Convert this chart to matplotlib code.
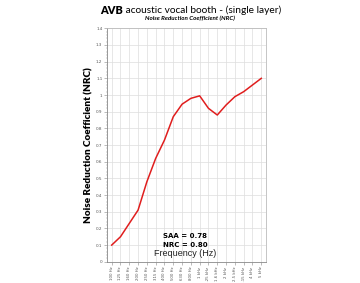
import matplotlib
matplotlib.use("Agg")
import matplotlib.pyplot as plt
import numpy as np
from matplotlib.ticker import MultipleLocator

bands = ["100 Hz", "125 Hz", "160 Hz", "200 Hz", "250 Hz", "315 Hz",
         "400 Hz", "500 Hz", "630 Hz", "800 Hz", "1 kHz", "1.25 kHz",
         "1.6 kHz", "2 kHz", "2.5 kHz", "3.15 kHz", "4 kHz", "5 kHz"]
nrc = [0.10, 0.15, 0.23, 0.31, 0.48, 0.62, 0.73, 0.87, 0.945, 0.98,
       0.995, 0.92, 0.88, 0.94, 0.99, 1.02, 1.06, 1.10]
yticks = [0, 0.1, 0.2, 0.3, 0.4, 0.5, 0.6, 0.7, 0.8, 0.9, 1.0, 1.1, 1.2, 1.3, 1.4]

fig = plt.figure(figsize=(3.6, 2.83), dpi=100)
ax = fig.add_axes([0.298, 0.075, 0.44, 0.825])

x = np.arange(len(bands))
ax.plot(x, nrc, color="#e01e1e", lw=1.1, solid_joinstyle="round")

ax.set_xlim(-0.5, 17.5)
ax.set_ylim(0, 1.4)
ax.set_xticks(x)
ax.set_xticklabels(bands, rotation=90, fontsize=2.8, color="#555555")
ax.set_yticks(yticks)
ax.set_yticklabels([("%g" % v) for v in yticks], fontsize=3, color="#555555")
ax.yaxis.set_minor_locator(MultipleLocator(0.02))
ax.tick_params(axis="both", which="major", length=2, width=0.4, color="#888888", pad=1.5)
ax.tick_params(axis="y", which="minor", length=1, width=0.3, color="#888888")
ax.grid(True, color="#dddddd", lw=0.5)
ax.set_axisbelow(True)
for s in ax.spines.values():
    s.set_color("#bbbbbb")
    s.set_linewidth(0.6)
ax.spines["left"].set_color("#888888")
ax.spines["bottom"].set_color("#888888")

ax.set_ylabel("Noise Reduction Coefficient (NRC)", fontsize=7.2, fontweight="heavy",
              family="Lato", labelpad=2)

# stats and x label sit inside the plot, like the original
ax.text(0.49, 0.11, "SAA = 0.78", transform=ax.transAxes, ha="center", va="center",
        fontsize=5, fontweight="bold")
ax.text(0.49, 0.07, "NRC = 0.80", transform=ax.transAxes, ha="center", va="center",
        fontsize=5, fontweight="bold")
ax.text(0.49, 0.034, "Frequency (Hz)", transform=ax.transAxes, ha="center", va="center",
        fontsize=6.5, family="Liberation Sans", color="#222222")

# title: bold "AVB" then regular text
t1 = fig.text(100 / 360, 1 - 10 / 283, "AVB", fontsize=7.8, fontweight="heavy",
              family="Lato", va="center", ha="left")
ax.annotate(" acoustic vocal booth - (single layer)", xy=(1, 0.5), xycoords=t1,
            va="center", ha="left", fontsize=7.3, family="Lato", annotation_clip=False)
fig.text(190 / 360, 1 - 18.5 / 283, "Noise Reduction Coefficient (NRC)", fontsize=4.5,
         fontweight="bold", style="italic", family="Lato", ha="center", va="center")

fig.savefig("out.png", dpi=100, facecolor="white")
